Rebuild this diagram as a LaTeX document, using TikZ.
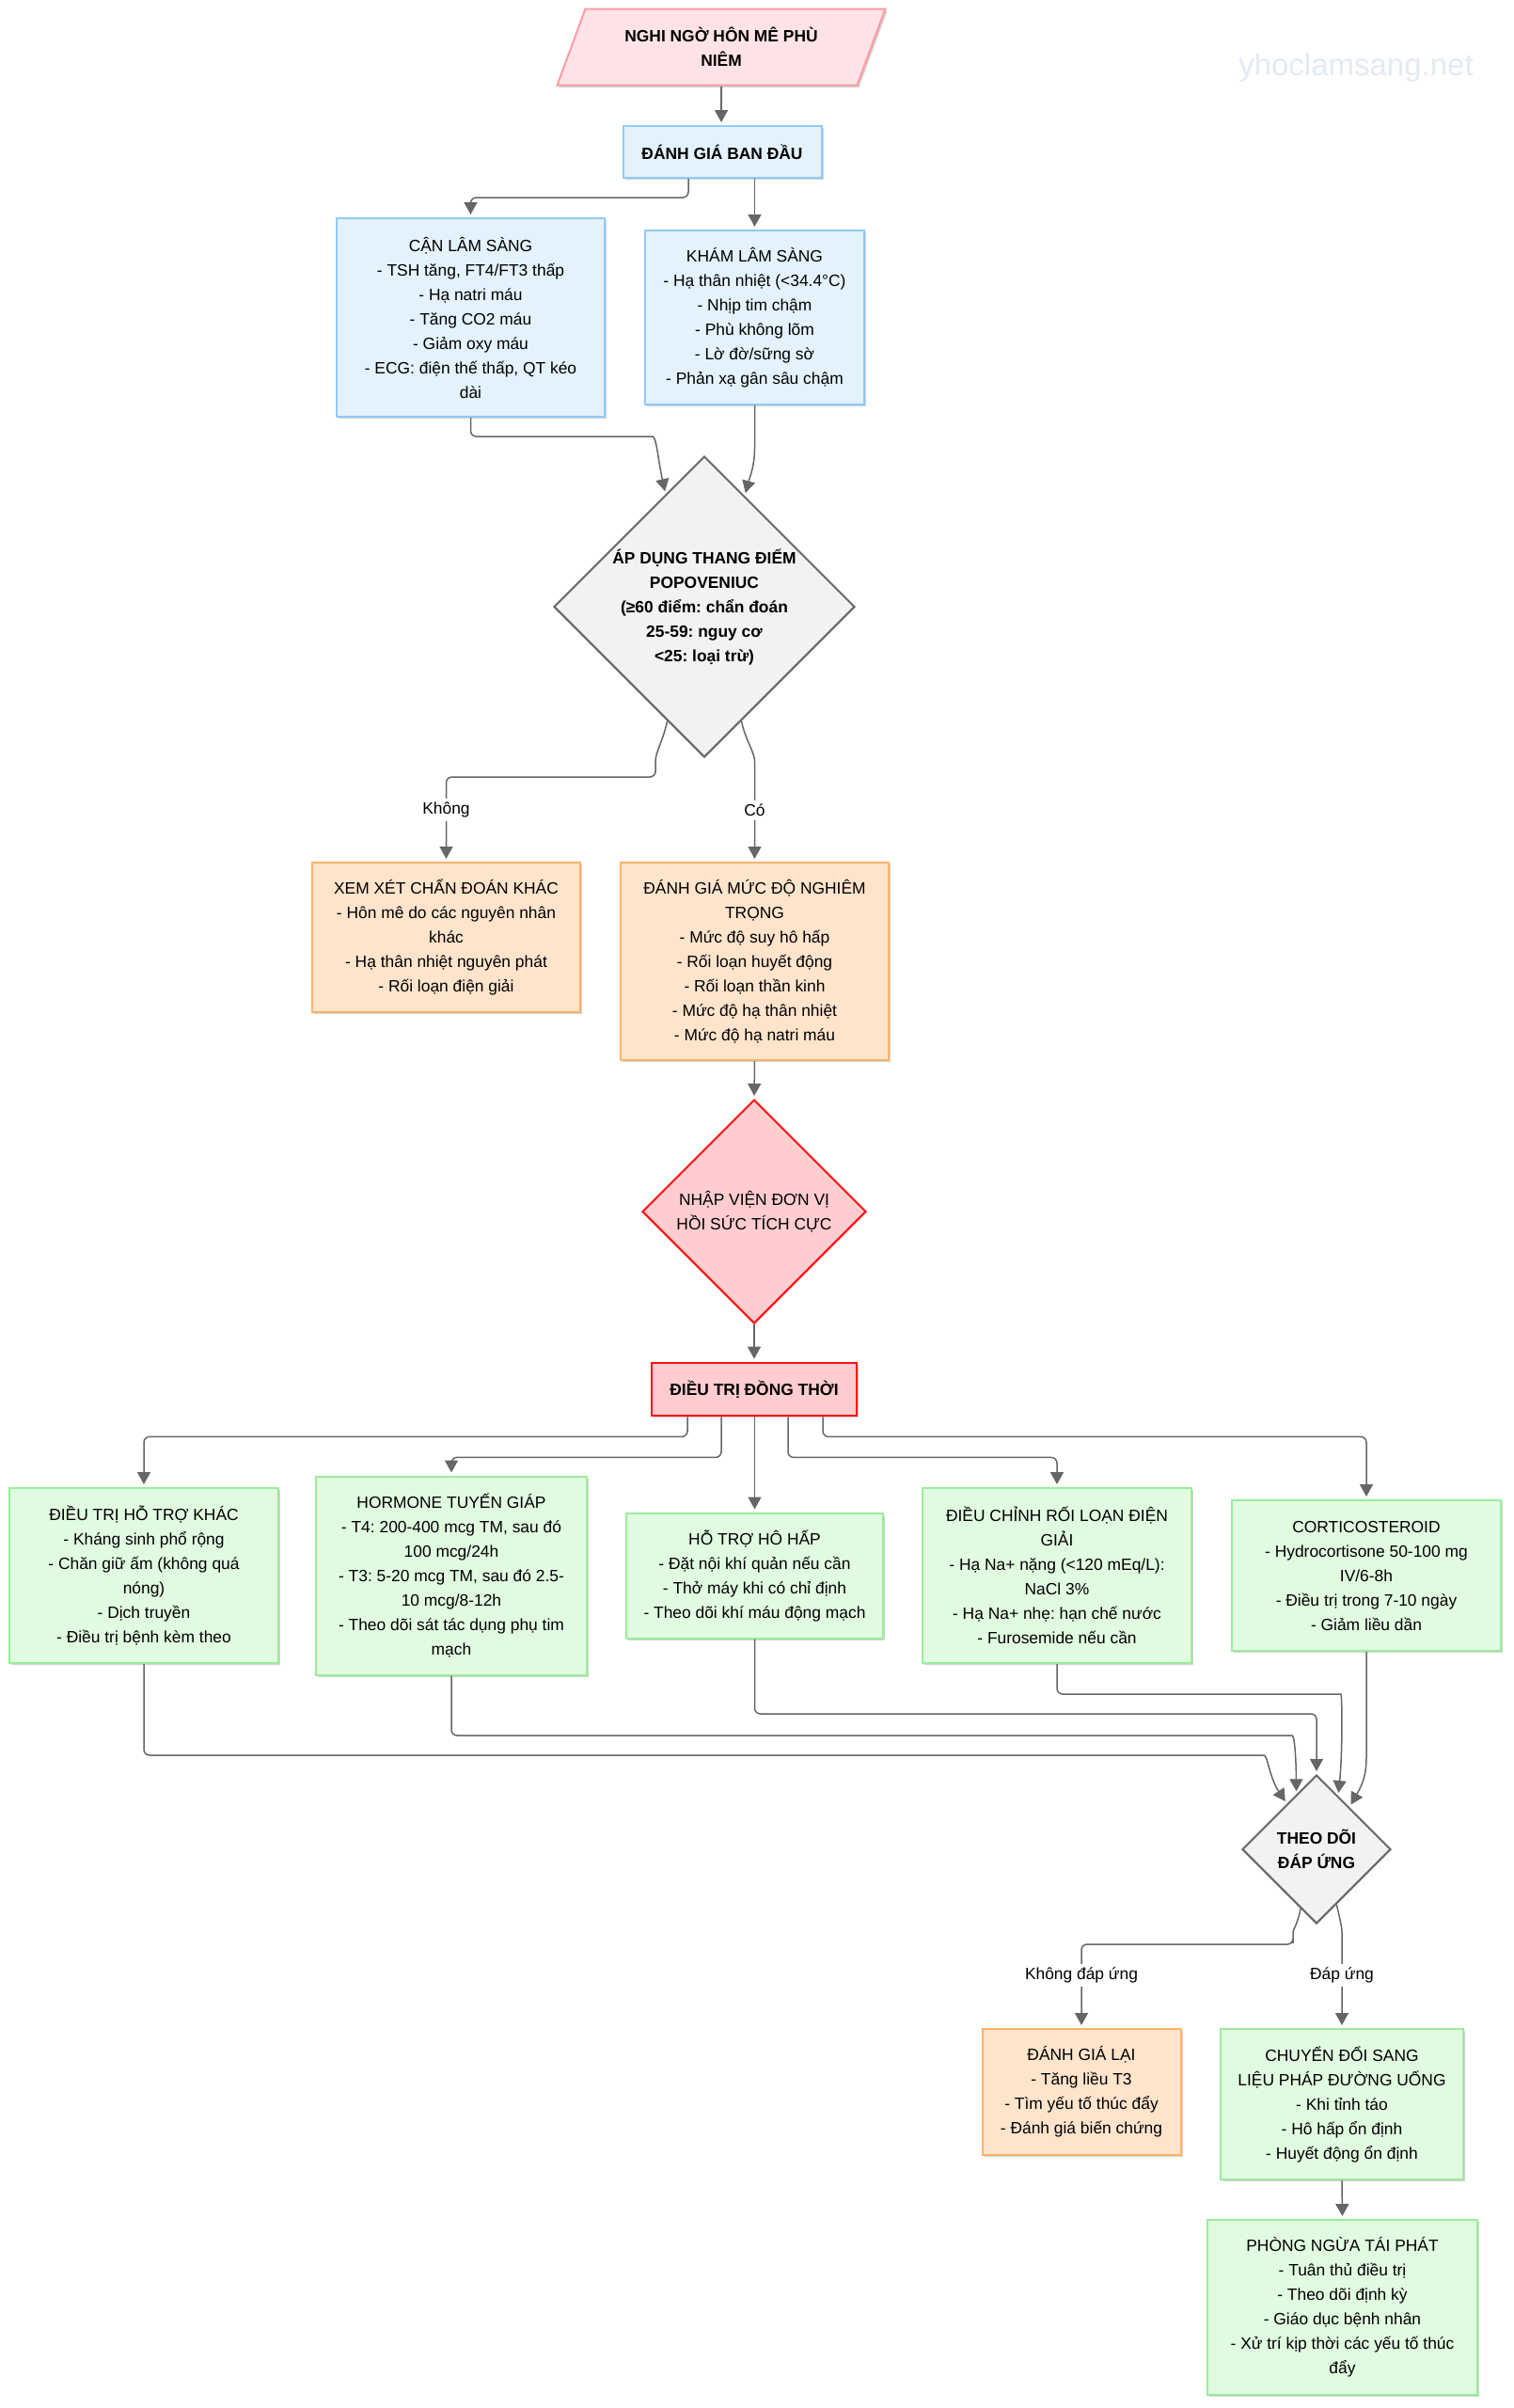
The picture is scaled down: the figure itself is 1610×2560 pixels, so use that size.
\documentclass[tikz,border=0pt]{standalone}
\usepackage{fontspec}
\setmainfont{Liberation Sans}
\usetikzlibrary{arrows.meta,shapes.geometric,shadows}
\frenchspacing
\definecolor{bluefill}{HTML}{E3F2FD}
\definecolor{bluebd}{HTML}{90CAF9}
\definecolor{pinkfill}{HTML}{FFE3E7}
\definecolor{pinkbd}{HTML}{FF9AA2}
\definecolor{orfill}{HTML}{FFE4CC}
\definecolor{orbd}{HTML}{FFB366}
\definecolor{grfill}{HTML}{E1FBE1}
\definecolor{grbd}{HTML}{99EE99}
\definecolor{redfill}{HTML}{FFCCCF}
\definecolor{redbd}{HTML}{FF1010}
\definecolor{gyfill}{HTML}{F2F2F2}
\definecolor{gybd}{HTML}{666666}
\definecolor{lc}{HTML}{666666}
\definecolor{wm}{HTML}{E3EAF3}
\tikzset{
  base/.style={font=\fontsize{8.7}{13}\selectfont, align=center, inner sep=2pt, text=black},
  boldbase/.style={base, font=\fontsize{8.7}{13}\selectfont\bfseries},
  shadowed/.style={drop shadow={shadow xshift=1pt, shadow yshift=-1.2pt, opacity=0.18, fill=black}},
  bluebox/.style={base, rectangle, draw=bluebd, fill=bluefill, line width=1pt, shadowed},
  orbox/.style={base, rectangle, draw=orbd, fill=orfill, line width=1pt, shadowed},
  grbox/.style={base, rectangle, draw=grbd, fill=grfill, line width=1pt, shadowed},
  redbox/.style={boldbase, rectangle, draw=redbd, fill=redfill, line width=1.4pt, shadowed},
  gydia/.style={boldbase, diamond, aspect=1, inner sep=0pt, draw=gybd, fill=gyfill, line width=1pt},
  reddia/.style={base, diamond, aspect=1, inner sep=0pt, draw=redbd, fill=redfill, line width=1pt},
  startshape/.style={boldbase, trapezium, trapezium left angle=66, trapezium right angle=114,
     trapezium stretches=true, draw=pinkbd, fill=pinkfill, line width=1pt, shadowed},
  arr/.style={draw=lc, line width=0.75pt, rounded corners=3pt, shorten >=1.5pt,
     -{Triangle[length=6.5pt,width=7pt]}},
  lbl/.style={base, fill=white, inner sep=2pt},
}
\begin{document}
\begin{tikzpicture}[x=0.5pt,y=-0.5pt]
\fill[white] (0,0) rectangle (1610,2560);
\useasboundingbox (0,0) rectangle (1610,2560);

\node[font=\fontsize{16.5}{20}\selectfont, text=wm] (wmark) at (1442,72) {yhoclamsang.net};

% nodes
\node[startshape, minimum width=174.5pt, minimum height=40.5pt] (start) at (767,50) {NGHI NGỜ HÔN MÊ PHÙ\\NIÊM};
\node[bluebox, font=\fontsize{8.7}{13}\selectfont\bfseries, minimum width=105.5pt, minimum height=27.5pt] (ban) at (768,161.5) {ĐÁNH GIÁ BAN ĐẦU};
\node[bluebox, minimum width=142.5pt, minimum height=105.5pt] (can) at (500.5,337.5) {CẬN LÂM SÀNG\\- TSH tăng, FT4/FT3 thấp\\- Hạ natri máu\\- Tăng CO2 máu\\- Giảm oxy máu\\- ECG: điện thế thấp, QT kéo\\dài};
\node[bluebox, minimum width=116.5pt, minimum height=92.5pt] (kham) at (802.5,337.5) {KHÁM LÂM SÀNG\\- Hạ thân nhiệt (<34.4°C)\\- Nhịp tim chậm\\- Phù không lõm\\- Lờ đờ/sững sờ\\- Phản xạ gân sâu chậm};
\node[gydia, minimum width=160pt, minimum height=160pt] (d1) at (749,645) {ÁP DỤNG THANG ĐIỂM\\POPOVENIUC\\(≥60 điểm: chẩn đoán\\25-59: nguy cơ\\<25: loại trừ)};
\node[orbox, minimum width=142.5pt, minimum height=79.5pt] (xem) at (474.5,996.5) {XEM XÉT CHẨN ĐOÁN KHÁC\\- Hôn mê do các nguyên nhân\\khác\\- Hạ thân nhiệt nguyên phát\\- Rối loạn điện giải};
\node[orbox, minimum width=142.5pt, minimum height=105pt] (dgmd) at (802.5,1022) {ĐÁNH GIÁ MỨC ĐỘ NGHIÊM\\TRỌNG\\- Mức độ suy hô hấp\\- Rối loạn huyết động\\- Rối loạn thần kinh\\- Mức độ hạ thân nhiệt\\- Mức độ hạ natri máu};
\node[reddia, minimum width=119pt, minimum height=119pt] (d2) at (802,1288) {NHẬP VIỆN ĐƠN VỊ\\HỒI SỨC TÍCH CỰC};
\node[redbox, minimum width=109pt, minimum height=28pt] (dtdt) at (802,1477) {ĐIỀU TRỊ ĐỒNG THỜI};

\node[grbox, minimum width=143pt, minimum height=93pt] (htk) at (153,1675) {ĐIỀU TRỊ HỖ TRỢ KHÁC\\- Kháng sinh phổ rộng\\- Chăn giữ ấm (không quá\\nóng)\\- Dịch truyền\\- Điều trị bệnh kèm theo};
\node[grbox, minimum width=144pt, minimum height=105.5pt] (horm) at (480,1675) {HORMONE TUYẾN GIÁP\\- T4: 200-400 mcg TM, sau đó\\100 mcg/24h\\- T3: 5-20 mcg TM, sau đó 2.5-\\10 mcg/8-12h\\- Theo dõi sát tác dụng phụ tim\\mạch};
\node[grbox, minimum width=136.5pt, minimum height=66.5pt] (hh) at (802.5,1675) {HỖ TRỢ HÔ HẤP\\- Đặt nội khí quản nếu cần\\- Thở máy khi có chỉ định\\- Theo dõi khí máu động mạch};
\node[grbox, minimum width=143pt, minimum height=93pt] (dc) at (1124,1675) {ĐIỀU CHỈNH RỐI LOẠN ĐIỆN\\GIẢI\\- Hạ Na+ nặng (<120 mEq/L):\\NaCl 3\%\\- Hạ Na+ nhẹ: hạn chế nước\\- Furosemide nếu cần};
\node[grbox, minimum width=143pt, minimum height=80pt] (cort) at (1453,1675) {CORTICOSTEROID\\- Hydrocortisone 50-100 mg\\IV/6-8h\\- Điều trị trong 7-10 ngày\\- Giảm liều dần};

\node[gydia, minimum width=79pt, minimum height=79pt] (d3) at (1400,1966) {THEO DÕI\\ĐÁP ỨNG};
\node[orbox, minimum width=105.5pt, minimum height=67pt] (dgl) at (1150,2224) {ĐÁNH GIÁ LẠI\\- Tăng liều T3\\- Tìm yếu tố thúc đẩy\\- Đánh giá biến chứng};
\node[grbox, minimum width=129pt, minimum height=80pt] (cd) at (1427,2237) {CHUYỂN ĐỔI SANG\\LIỆU PHÁP ĐƯỜNG UỐNG\\- Khi tỉnh táo\\- Hô hấp ổn định\\- Huyết động ổn định};
\node[grbox, minimum width=143.5pt, minimum height=93pt] (pn) at (1427.5,2453) {PHÒNG NGỪA TÁI PHÁT\\- Tuân thủ điều trị\\- Theo dõi định kỳ\\- Giáo dục bệnh nhân\\- Xử trí kịp thời các yếu tố thúc\\đẩy};

% connectors
\draw[arr] (start.south) -- (start.south |- ban.north);
\draw[arr] ([xshift=-18pt]ban.south) -- ++(0,20) -| (can.north);
\draw[arr] (kham.north |- ban.south) -- (kham.north);
\draw[arr] (can.south) |- (688,464) .. controls (698,464) and (700,490) .. (d1.109);
\draw[arr] (kham.south) -- (802.5,470) .. controls (802.5,495) and (798,505) .. (d1.70);
\draw[arr] (d1.252) .. controls (706,785) and (697,800) .. (697,815) -- (697,826) -| (xem.north);
\draw[arr] (d1.288) .. controls (792,785) and (802.5,800) .. (802.5,815) -- (dgmd.north);
\draw[arr] (dgmd.south) -- (d2.north);
\draw[arr] (d2.south) -- (dtdt.north);

\draw[arr] ([xshift=-35.5pt]dtdt.south) -- ++(0,21) -| (htk.north);
\draw[arr] ([xshift=-17.5pt]dtdt.south) -- ++(0,43) -| (horm.north);
\draw[arr] (hh.north |- dtdt.south) -- (hh.north);
\draw[arr] ([xshift=18pt]dtdt.south) -- ++(0,43) -| (dc.north);
\draw[arr] ([xshift=36.5pt]dtdt.south) -- ++(0,21) -| (cort.north);

\draw[arr] (htk.south) |- (1338,1866) .. controls (1348,1866) and (1350,1890) .. (d3.123);
\draw[arr] (horm.south) |- (1368,1845) .. controls (1376,1845) and (1378,1860) .. (d3.110);
\draw[arr] (hh.south) -- (802.5,1822) -| (d3.north);
\draw[arr] (dc.south) |- (1420,1801) .. controls (1427,1801) and (1428,1860) .. (d3.68);
\draw[arr] (cort.south) -- (1453,1862) .. controls (1453,1885) and (1450,1895) .. (d3.52);

\draw[arr] (d3.255) .. controls (1380,2045) and (1375,2052) .. (1375,2060) -- (1375,2067) -| (dgl.north);
\draw[arr] (d3.290) .. controls (1426,2045) and (1427,2050) .. (1427,2060) -- (cd.north);
\draw[arr] (cd.south) -- (pn.north);

% labels
\node[lbl] (l1) at (474.5,861) {Không};
\node[lbl] (l2) at (802.5,861) {Có};
\node[lbl] (l3) at (1150,2100) {Không đáp ứng};
\node[lbl] (l4) at (1427,2100) {Đáp ứng};
\end{tikzpicture}
\end{document}
